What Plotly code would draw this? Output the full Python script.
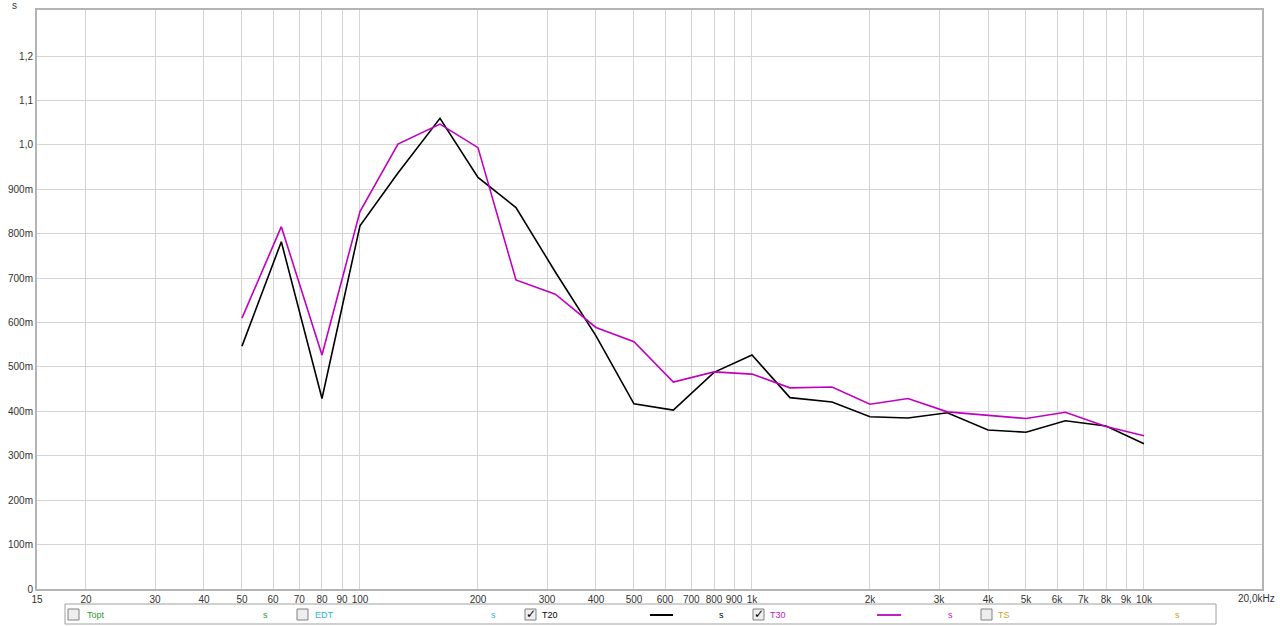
import numpy as np
import plotly.graph_objects as go

# ---- data ----
freqs = [50, 63, 80, 100, 125, 160, 200, 250, 315, 400, 500, 630, 800,
         1000, 1250, 1600, 2000, 2500, 3150, 4000, 5000, 6300, 8000, 10000]
t20 = [0.547, 0.782, 0.429, 0.818, 0.937, 1.060, 0.927, 0.859, 0.714, 0.570,
       0.417, 0.403, 0.488, 0.527, 0.431, 0.421, 0.388, 0.385, 0.397, 0.358,
       0.353, 0.379, 0.367, 0.327]
t30 = [0.610, 0.816, 0.527, 0.850, 1.002, 1.047, 0.994, 0.696, 0.664, 0.589,
       0.557, 0.466, 0.489, 0.484, 0.453, 0.455, 0.416, 0.429, 0.399, 0.392,
       0.384, 0.398, 0.366, 0.345]

x_tickvals = [15, 20, 30, 40, 50, 60, 70, 80, 90, 100, 200, 300, 400, 500, 600,
              700, 800, 900, 1000, 2000, 3000, 4000, 5000, 6000, 7000, 8000,
              9000, 10000]
x_ticktext = ["15", "20", "30", "40", "50", "60", "70", "80", "90", "100", "200",
              "300", "400", "500", "600", "700", "800", "900", "1k", "2k", "3k",
              "4k", "5k", "6k", "7k", "8k", "9k", "10k"]
x_end_label = "20,0kHz"
y_tickvals = [0, 0.1, 0.2, 0.3, 0.4, 0.5, 0.6, 0.7, 0.8, 0.9, 1.0, 1.1, 1.2]
y_ticktext = ["0", "100m", "200m", "300m", "400m", "500m", "600m", "700m",
              "800m", "900m", "1,0", "1,1", "1,2"]
major_x = [100, 1000, 10000]

FONT = "Liberation Sans"
W, H = 1280, 626
# plot area in page pixels
L, R, T, B = 37, 1262, 10, 589

fig = go.Figure()
fig.add_trace(go.Scatter(x=freqs, y=t20, mode="lines", name="T20",
                         line=dict(color="#000000", width=1.6)))
fig.add_trace(go.Scatter(x=freqs, y=t30, mode="lines", name="T30",
                         line=dict(color="#c000c0", width=1.6)))

def px(x):
    return (x - L) / (R - L)

def py(y):
    return (B - y) / (B - T)

def note(text, x, y, size, color, xanchor="center", family=FONT):
    return dict(text=text, x=px(x), y=py(y), xref="paper", yref="paper",
                xanchor=xanchor, yanchor="middle", showarrow=False,
                font=dict(family=family, size=size, color=color))

shapes = []
for f in major_x:
    shapes.append(dict(type="line", xref="x", yref="paper", x0=np.log10(f), x1=np.log10(f),
                       y0=0, y1=1, line=dict(color="#a8a8a8", width=1.5), layer="below"))
# legend box
shapes.append(dict(type="rect", xref="paper", yref="paper", x0=px(65), x1=px(1216),
                   y0=py(624), y1=py(604),
                   line=dict(color="#a0a0a0", width=1), fillcolor="white"))

annotations = [
    note("s", 14, 5, 10, "#333333"),
    note(x_end_label, 1277, 598, 10, "#333333", xanchor="right"),
]

items = [
    ("Topt", "#2e9a2e", 68, 85, None, 265, False),
    ("EDT", "#2ab8c8", 297, 313, None, 493, False),
    ("T20", "#000000", 525, 540, (650, 673), 721, True),
    ("T30", "#c020c0", 753, 768, (877, 901), 950, True),
    ("TS", "#d0a020", 981, 996, None, 1177, False),
]
for label, col, cbx, lx, line_x, sx, checked in items:
    shapes.append(dict(type="rect", xref="paper", yref="paper",
                       x0=px(cbx), x1=px(cbx + 11), y0=py(620), y1=py(609),
                       line=dict(color="#808080", width=1), fillcolor="#eeeeee"))
    if checked:
        annotations.append(note("✓", cbx + 5.5, 614, 12, "#000000", family="DejaVu Sans"))
    annotations.append(note(label, lx, 615, 9, col, xanchor="left"))
    annotations.append(note("s", sx, 615, 9, col))
    if line_x:
        shapes.append(dict(type="line", xref="paper", yref="paper",
                           x0=px(line_x[0]), x1=px(line_x[1]), y0=py(615), y1=py(615),
                           line=dict(color=col, width=2)))

fig.update_layout(
    width=W, height=H,
    margin=dict(l=L, r=W - R, t=T, b=H - B, autoexpand=False),
    paper_bgcolor="white", plot_bgcolor="white",
    showlegend=False,
    font=dict(family=FONT, size=10, color="#333333"),
    shapes=shapes, annotations=annotations,
    xaxis=dict(type="log", range=[np.log10(15), np.log10(20000)],
               tickvals=x_tickvals, ticktext=x_ticktext, tickangle=0,
               showgrid=True, gridcolor="#d4d4d4", gridwidth=1,
               showline=True, linecolor="#b4b4b4", linewidth=2, mirror=True,
               ticks="", zeroline=False, automargin=False,
               tickfont=dict(family=FONT, size=10, color="#333333")),
    yaxis=dict(range=[0, 1.304], tickvals=y_tickvals, ticktext=y_ticktext,
               showgrid=True, gridcolor="#d4d4d4", gridwidth=1,
               showline=True, linecolor="#b4b4b4", linewidth=2, mirror=True,
               ticks="", zeroline=False, automargin=False,
               tickfont=dict(family=FONT, size=10, color="#333333")),
)

fig.write_html("out.html",
               config={"displayModeBar": False},
               post_script="document.body.style.margin='0px';document.body.style.overflow='hidden';")
